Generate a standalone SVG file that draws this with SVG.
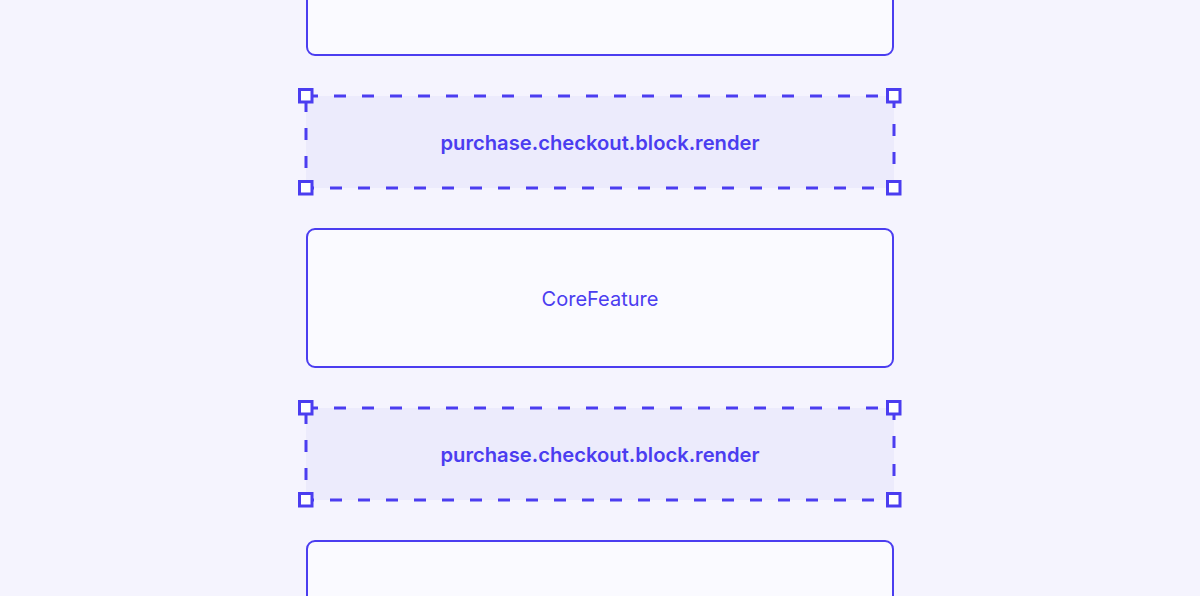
<svg xmlns="http://www.w3.org/2000/svg" width="1200" height="596" viewBox="0 0 1200 596">
<style>
.bg{fill:#f5f4fe}
.box{fill:#fafaff;stroke:#4b3df0;stroke-width:2}
.sel{fill:#ecebfc;stroke:#4b3df0;stroke-width:3;stroke-dasharray:12 16}
.h{fill:#ffffff;stroke:#4b3df0;stroke-width:3}
.t{font-family:Inter,"Liberation Sans",sans-serif;font-size:20px;fill:#4b3df0;text-anchor:middle}
.tb{font-weight:600;font-size:20.2px}
</style>
<rect class="bg" x="0" y="0" width="1200" height="596"/>
<g id="node-top">
<rect class="box" x="307" y="-83" width="586" height="138" rx="8"/>
</g>
<g id="node-sel1">
<rect class="sel" x="306" y="96" width="588" height="92"/>
<rect class="h" x="299.5" y="89.5" width="12.5" height="12.5"/>
<rect class="h" x="887.5" y="89.5" width="12.5" height="12.5"/>
<rect class="h" x="299.5" y="181.5" width="12.5" height="12.5"/>
<rect class="h" x="887.5" y="181.5" width="12.5" height="12.5"/>
<text class="t tb" x="600" y="150">purchase.checkout.block.render</text>
</g>
<g id="node-core">
<rect class="box" x="307" y="229" width="586" height="138" rx="8"/>
<text class="t" x="600" y="306">CoreFeature</text>
</g>
<g id="node-sel2">
<rect class="sel" x="306" y="408" width="588" height="92"/>
<rect class="h" x="299.5" y="401.5" width="12.5" height="12.5"/>
<rect class="h" x="887.5" y="401.5" width="12.5" height="12.5"/>
<rect class="h" x="299.5" y="493.5" width="12.5" height="12.5"/>
<rect class="h" x="887.5" y="493.5" width="12.5" height="12.5"/>
<text class="t tb" x="600" y="462">purchase.checkout.block.render</text>
</g>
<g id="node-bottom">
<rect class="box" x="307" y="541" width="586" height="138" rx="8"/>
</g>
<g id="connectors"></g>
</svg>
